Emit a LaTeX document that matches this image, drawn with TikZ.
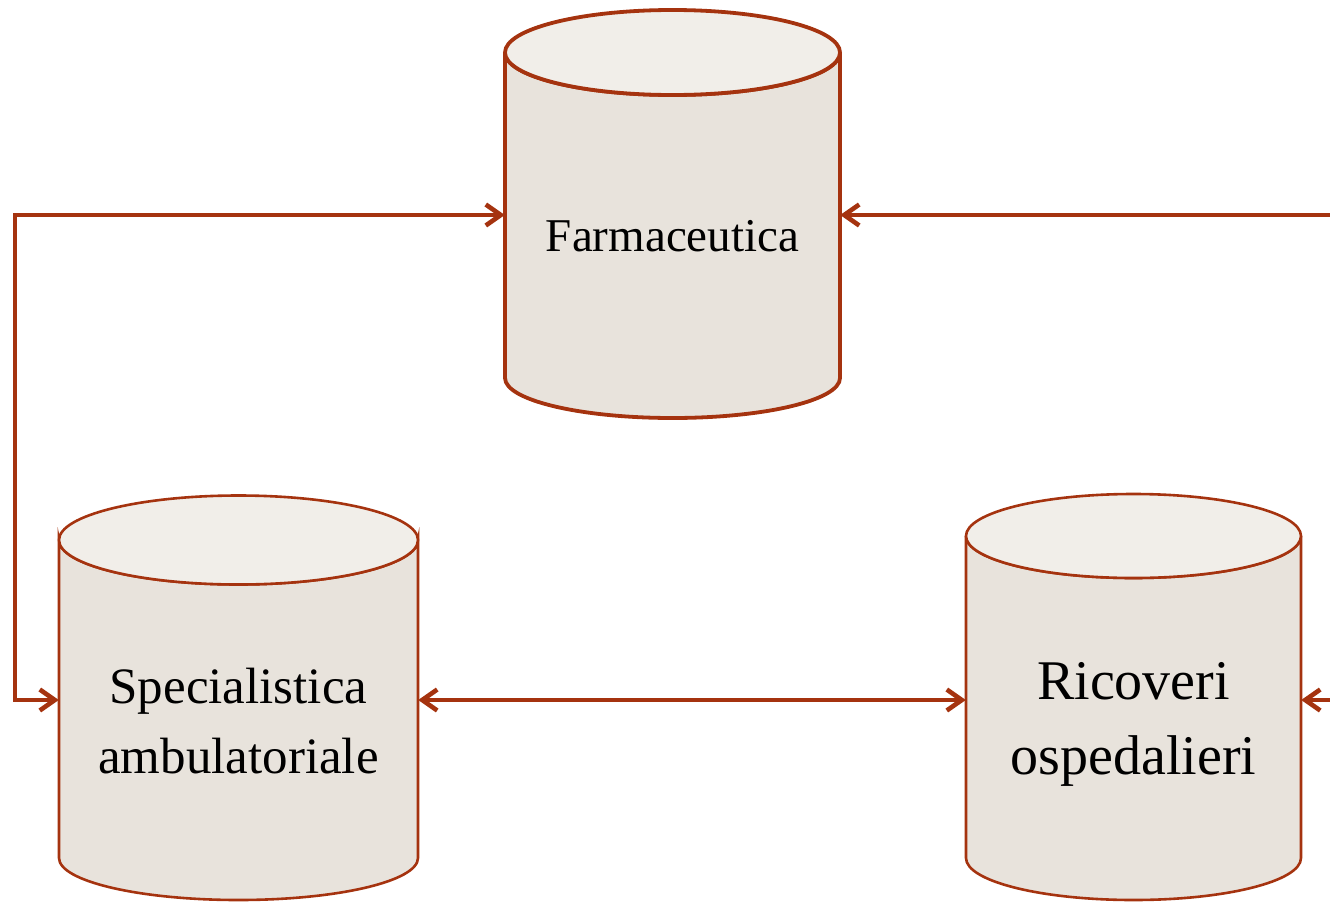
\documentclass[tikz,border=0pt]{standalone}
\usepackage{fontspec}
\setmainfont{Liberation Serif}
\usetikzlibrary{arrows.meta}
\definecolor{rust}{HTML}{A5330F}
\definecolor{cylbody}{HTML}{E8E3DC}
\definecolor{cyllid}{HTML}{F1EEE9}
\tikzset{
  tipstyle/.style={},
  conn/.style={draw=rust, line width=4.6pt, line join=miter,
    -{Straight Barb[length=15pt,width=21pt]}},
  conndbl/.style={conn, {Straight Barb[length=15pt,width=21pt]}-{Straight Barb[length=15pt,width=21pt]}},
  anchorbox/.style={draw=none, inner sep=0pt, minimum width=#1},
  cyltext/.style={text=black, align=center, inner sep=0pt}
}
\newcommand\drawcyl[7]{%
  \pgfmathsetmacro\cylcx{(#1+#2)/2}%
  \pgfmathsetmacro\cylrx{(#2-#1)/2}%
  \filldraw[fill=cylbody, draw=rust, line width=#7]
    (#1,#3) -- (#1,#5) arc[start angle=180, end angle=0, x radius=\cylrx, y radius=#6]
    -- (#2,#3) arc[start angle=0, end angle=180, x radius=\cylrx, y radius=#4] -- cycle;
  \filldraw[fill=cyllid, draw=rust, line width=#7]
    (\cylcx,#3) ellipse[x radius=\cylrx, y radius=#4];
}
\begin{document}
\begin{tikzpicture}[x=1pt, y=-1pt]
\useasboundingbox (0,0) rectangle (1330,902);
% cylinders
\drawcyl{505}{840}{52.5}{42.5}{378}{40}{3.8pt}
\drawcyl{59}{418}{540}{44.5}{858}{42}{2.6pt}
\drawcyl{966}{1301}{536}{42}{858}{42}{2.6pt}
% anchor boxes
\node[anchorbox=335pt, minimum height=300pt] (farm) at (672.5,215) {};
\node[anchorbox=359pt, minimum height=300pt] (spec) at (238.5,700) {};
\node[anchorbox=335pt, minimum height=300pt] (ric) at (1133.5,700) {};
% labels
\node[cyltext, font=\fontsize{47}{48}\selectfont] (farmlabel) at (672.5,236) {Farmaceutica};
\node[cyltext, font=\fontsize{51}{70}\selectfont] (speclabel) at (238.5,721) {Specialistica\\ambulatoriale};
\node[cyltext, font=\fontsize{56}{75}\selectfont] (riclabel) at (1133.5,724) {Ricoveri\\ospedalieri};
% free ends
\coordinate (lt) at (15,215);
\coordinate (lb) at (15,700);
\coordinate (rt) at (1330,215);
\coordinate (rb) at (1330,700);
% connectors
\draw[conndbl] (farm.west) -- (lt) -- (lb) -- (spec.west);
\draw[conn] (rt) -- (farm.east);
\draw[conndbl] (spec.east) -- (ric.west);
\draw[conn] (rb) -- (ric.east);
\end{tikzpicture}
\end{document}
